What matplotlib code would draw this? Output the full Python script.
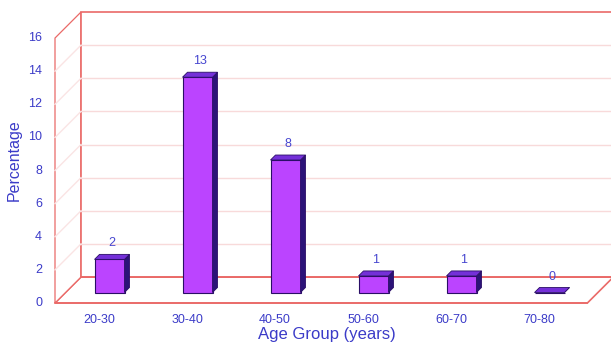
import matplotlib
matplotlib.use("Agg")
import matplotlib.pyplot as plt
from matplotlib.patches import Polygon
import numpy as np

plt.rcParams['font.family'] = ['Liberation Sans', 'DejaVu Sans']

categories = ["20-30", "30-40", "40-50", "50-60", "60-70", "70-80"]
values = [2, 13, 8, 1, 1, 0]
yticks = [0, 2, 4, 6, 8, 10, 12, 14, 16]
xlabel = "Age Group (years)"
ylabel = "Percentage"

W, H = 611, 345
fig = plt.figure(figsize=(W / 100, H / 100), dpi=100)
ax = fig.add_axes([0, 0, 1, 1])
ax.set_axis_off()

# pixel mapping of the front plane
px0, pxstep = 99.0, 88.0       # pixel x of category 0, spacing
py0, pyunit = 303.0, 16.56     # pixel y of value 0, pixels per unit
ax.set_xlim((0 - px0) / pxstep, (W - px0) / pxstep)
ax.set_ylim((py0 - H) / pyunit, py0 / pyunit)

depth_px = 26.0
dx = depth_px / pxstep
dy = depth_px / pyunit
x0, x1 = -0.5, 5.55
ymax = yticks[-1]

red = "#EA6A68"
grid_back = "#F8DADA"
grid_left = "#FAE4E4"
txt = "#3B3BC8"

# floor
ax.add_patch(Polygon([(x0, 0), (x1, 0), (x1 + dx, dy), (x0 + dx, dy)], closed=True,
                     facecolor="white", edgecolor=red, lw=1.2, zorder=1))
# left wall
ax.add_patch(Polygon([(x0, 0), (x0 + dx, dy), (x0 + dx, ymax + dy), (x0, ymax)], closed=True,
                     facecolor="white", edgecolor=red, lw=0.9, zorder=1))
# back wall
ax.add_patch(Polygon([(x0 + dx, dy), (x1 + dx, dy), (x1 + dx, ymax + dy), (x0 + dx, ymax + dy)],
                     closed=True, facecolor="white", edgecolor=red, lw=1.2, zorder=1))
for v in yticks[1:-1]:
    ax.plot([x0 + dx, x1 + dx], [v + dy, v + dy], color=grid_back, lw=1.0, zorder=2)
    ax.plot([x0, x0 + dx], [v, v + dy], color=grid_left, lw=1.0, zorder=2)
ax.plot([x0 + dx, x1 + dx], [dy, dy], color=red, lw=1.2, zorder=2)
ax.plot([x0, x1], [0, 0], color=red, lw=1.2, zorder=2)

# bars
xs = np.arange(len(categories))
bw = 30.0 / pxstep
dfront = 10.5 / depth_px
bdepth = 5.0 / depth_px
front = "#BB44FF"
topc = "#7430D8"
side = "#2C1378"
edge = "#2A0E66"
bx = xs + dx * dfront
by = dy * dfront
ax.bar(bx, values, width=bw, bottom=by, color=front, edgecolor=edge, lw=0.8, zorder=5)
ddx, ddy = dx * bdepth, dy * bdepth
for xc, v in zip(bx, values):
    l, r = xc - bw / 2, xc + bw / 2
    t = by + v
    ax.add_patch(Polygon([(r, by), (r + ddx, by + ddy), (r + ddx, t + ddy), (r, t)], closed=True,
                         facecolor=side, edgecolor=edge, lw=0.6, zorder=5))
    ax.add_patch(Polygon([(l, t), (r, t), (r + ddx, t + ddy), (l + ddx, t + ddy)], closed=True,
                         facecolor=topc, edgecolor=edge, lw=0.6, zorder=5))
    ax.annotate(f"{v}", (xc + ddx / 2, t), xytext=(0, 16 * 0.72), textcoords="offset points",
                ha="center", va="center", color="#4646D0", fontsize=9, zorder=6)

# tick labels
for xc, lab in zip(xs, categories):
    ax.annotate(lab, (xc, 0), xytext=(0, -17 * 0.72), textcoords="offset points",
                ha="center", va="center", color=txt, fontsize=9)
for v in yticks:
    ax.annotate(f"{v}", (x0, v), xytext=(-13 * 0.72, 0), textcoords="offset points",
                ha="right", va="center", color=txt, fontsize=9)

fig.text(327 / W, 1 - 335 / H, xlabel, ha="center", va="center", color=txt, fontsize=12)
fig.text(14 / W, 1 - 160 / H, ylabel, ha="center", va="center", rotation=90, color=txt, fontsize=11.5)

fig.savefig("out.png", dpi=100, facecolor="white")
